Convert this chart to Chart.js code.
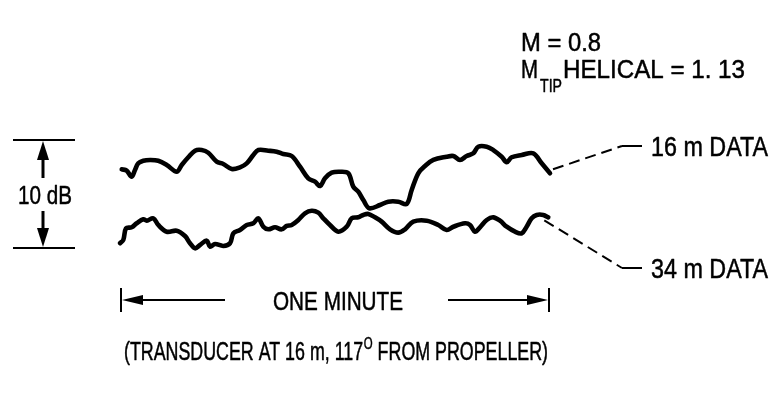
<!DOCTYPE html>
<html>
<head>
<meta charset="utf-8">
<script src="https://cdn.jsdelivr.net/npm/chart.js@4/dist/chart.umd.min.js"></script>
<style>
  html, body { margin: 0; padding: 0; background: #fff; }
  #wrap { width: 774px; height: 394px; }
</style>
</head>
<body>
<div id="wrap"><canvas id="c" width="774" height="394"></canvas></div>
<script>
// Time (s) within the one-minute record and relative level (dB) for each trace
const seconds16 = [0.24, 0.93, 1.63, 2.09, 2.55, 3.25, 4.19, 5.34, 6.52, 7.91, 8.61, 9.53, 10.47, 11.40, 12.32, 13.49, 14.41, 15.59, 16.74, 17.68, 18.60, 19.30, 20.69, 21.86, 22.79, 23.96, 25.12, 26.27, 27.21, 27.91, 28.60, 29.54, 30.70, 31.86, 32.55, 33.25, 33.95, 34.78, 36.28, 37.44, 38.83, 40.00, 40.70, 41.62, 42.56, 43.72, 45.58, 46.51, 47.44, 48.37, 49.30, 49.99, 51.17, 52.09, 53.26, 53.96, 54.65, 56.05, 57.67, 58.84, 60.00];
const level16 = [7.29, 7.16, 6.60, 7.22, 7.84, 8.08, 8.15, 8.08, 7.69, 7.06, 7.69, 8.40, 9.01, 9.07, 8.82, 7.99, 7.78, 7.31, 7.47, 7.84, 8.61, 9.07, 9.01, 8.92, 8.70, 8.52, 7.53, 6.45, 6.14, 5.74, 6.45, 6.97, 7.06, 6.92, 5.68, 5.21, 4.44, 3.68, 3.98, 4.29, 4.29, 4.07, 5.37, 6.92, 7.59, 8.15, 8.45, 8.52, 8.15, 8.52, 8.77, 9.38, 9.38, 9.07, 8.45, 7.94, 8.40, 8.61, 8.77, 7.84, 6.92];

const seconds34 = [0.00, 0.46, 0.84, 1.63, 2.33, 3.25, 3.73, 4.65, 5.34, 6.52, 7.91, 9.07, 9.77, 10.47, 11.16, 12.10, 12.56, 13.26, 14.41, 15.35, 15.81, 16.74, 17.68, 18.60, 19.30, 20.00, 20.69, 21.63, 22.56, 23.26, 23.96, 24.88, 25.81, 26.75, 27.67, 28.37, 29.30, 30.46, 31.63, 32.33, 33.25, 33.95, 34.65, 35.58, 36.51, 37.67, 38.83, 39.77, 40.92, 42.79, 44.41, 45.58, 46.51, 48.14, 48.84, 49.53, 50.23, 51.17, 52.09, 53.02, 53.96, 55.12, 56.05, 56.74, 57.44, 58.14, 59.06, 59.76];
const level34 = [0.44, 0.74, 1.82, 1.92, 2.29, 2.66, 2.53, 2.75, 2.13, 1.51, 1.60, 1.11, 0.44, -0.03, 0.28, 0.68, 0.12, 0.37, 0.19, 0.44, 1.36, 1.67, 2.13, 2.29, 2.75, 1.97, 1.73, 1.92, 1.73, 2.04, 2.13, 2.59, 3.21, 3.45, 3.27, 2.75, 2.13, 1.51, 1.97, 2.75, 2.84, 3.06, 3.15, 2.84, 2.44, 1.73, 1.42, 1.73, 2.44, 2.53, 2.13, 1.67, 1.97, 2.29, 2.13, 1.51, 1.92, 2.59, 2.84, 2.53, 1.97, 1.51, 1.36, 1.97, 2.75, 3.06, 3.06, 2.84];

// Scale bar (dB) and time span (s) markers
const scaleBarDb = [0, 10];
const timeSpan = [0, 60];

// Text
const scaleLabel = '10 dB';
const spanLabel = 'ONE MINUTE';
const machLine = 'M = 0.8';
const tipLine = ['M', 'TIP', 'HELICAL = 1. 13'];
const seriesLabels = ['16 m DATA', '34 m DATA'];
const captionParts = ['(TRANSDUCER AT 16 m, 117', 'O', ' FROM PROPELLER)'];

const FAMILY = '"Liberation Sans", Arial, sans-serif';

function toPoints(xs, ys) { return xs.map((t, i) => ({ x: t, y: ys[i] })); }

// Draw a run of text pieces squeezed horizontally to a set width (condensed lettering)
function fitRun(ctx, pieces, x, baseline, width) {
  let natural = 0;
  const widths = pieces.map(p => {
    ctx.font = p.size + 'px ' + FAMILY;
    const w = ctx.measureText(p.text).width + (p.gap || 0);
    natural += w;
    return w;
  });
  ctx.save();
  ctx.translate(x, baseline);
  ctx.scale(width / natural, 1);
  ctx.textAlign = 'left';
  ctx.textBaseline = 'alphabetic';
  ctx.lineWidth = 0.5;
  ctx.lineJoin = 'round';
  let cx = 0;
  pieces.forEach((p, i) => {
    ctx.font = p.size + 'px ' + FAMILY;
    ctx.fillText(p.text, cx, p.dy || 0);
    ctx.strokeText(p.text, cx, p.dy || 0);
    cx += widths[i];
  });
  ctx.restore();
}

function arrowHead(ctx, tipX, tipY, dirX, dirY, len, half) {
  const bx = tipX - dirX * len, by = tipY - dirY * len;
  const px = -dirY, py = dirX;
  ctx.beginPath();
  ctx.moveTo(tipX, tipY);
  ctx.lineTo(bx + px * half, by + py * half);
  ctx.lineTo(bx - px * half, by - py * half);
  ctx.closePath();
  ctx.fill();
}

function line(ctx, x1, y1, x2, y2, w, dash) {
  ctx.save();
  ctx.lineWidth = w;
  ctx.setLineDash(dash || []);
  ctx.beginPath();
  ctx.moveTo(x1, y1);
  ctx.lineTo(x2, y2);
  ctx.stroke();
  ctx.restore();
}

const annotations = {
  id: 'annotations',
  afterDatasetsDraw(chart) {
    const ctx = chart.ctx;
    const xs = chart.scales.x, ys = chart.scales.y;
    ctx.save();
    ctx.fillStyle = '#000';
    ctx.strokeStyle = '#000';
    ctx.lineCap = 'butt';

    // 10 dB scale bar
    const yTop = ys.getPixelForValue(scaleBarDb[1]);
    const yBot = ys.getPixelForValue(scaleBarDb[0]);
    const yMid = (yTop + yBot) / 2;
    line(ctx, 13, yTop, 75, yTop, 2);
    line(ctx, 13, yBot, 75, yBot, 2);
    const ax = 43;
    arrowHead(ctx, ax, yTop + 1, 0, -1, 19, 6);
    line(ctx, ax, yTop + 17, ax, yMid - 16, 3);
    arrowHead(ctx, ax, yBot - 1, 0, 1, 19, 6);
    line(ctx, ax, yMid + 17, ax, yBot - 17, 3);
    fitRun(ctx, [{ text: scaleLabel, size: 26 }], 18, yMid + 10, 54);

    // One-minute span arrow
    const xL = xs.getPixelForValue(timeSpan[0]);
    const xR = xs.getPixelForValue(timeSpan[1]);
    const yA = 300;
    line(ctx, xL + 1, yA - 12, xL + 1, yA + 12, 2);
    line(ctx, xR - 1, yA - 12, xR - 1, yA + 12, 2);
    arrowHead(ctx, xL + 2, yA, -1, 0, 21, 5);
    line(ctx, xL + 20, yA, 225, yA, 2);
    arrowHead(ctx, xR - 2, yA, 1, 0, 21, 5);
    line(ctx, 448, yA, xR - 20, yA, 2);
    fitRun(ctx, [{ text: spanLabel, size: 26 }], 273, yA + 10, 130);

    // Caption with superscript degree mark
    fitRun(ctx, [
      { text: captionParts[0], size: 25, gap: 1 },
      { text: captionParts[1], size: 16, dy: -11 },
      { text: captionParts[2], size: 25 }
    ], 124, 360, 424);

    // Flight condition labels
    fitRun(ctx, [{ text: machLine, size: 25 }], 521, 51, 80);
    fitRun(ctx, [{ text: tipLine[0], size: 25 }], 521, 78, 17);
    fitRun(ctx, [{ text: tipLine[1], size: 19 }], 540, 92, 22);
    fitRun(ctx, [{ text: tipLine[2], size: 25 }], 563, 78, 182);

    // Series leaders and labels
    const e16x = xs.getPixelForValue(seconds16[seconds16.length - 1]);
    const e16y = ys.getPixelForValue(level16[level16.length - 1]);
    const e34x = xs.getPixelForValue(seconds34[seconds34.length - 1]);
    const e34y = ys.getPixelForValue(level34[level34.length - 1]);
    const l16y = 146, l34y = 268;
    line(ctx, e16x + 3, e16y - 4, 622, l16y, 2, [11, 6]);
    line(ctx, 622, l16y, 642, l16y, 2);
    line(ctx, e34x - 4, e34y + 3, 622, l34y, 2, [11, 6]);
    line(ctx, 622, l34y, 642, l34y, 2);
    fitRun(ctx, [{ text: seriesLabels[0], size: 27 }], 651, l16y + 10, 117);
    fitRun(ctx, [{ text: seriesLabels[1], size: 27 }], 651, l34y + 10, 117);

    ctx.restore();
  }
};

new Chart(document.getElementById('c'), {
  type: 'line',
  data: {
    datasets: [
      { label: seriesLabels[0], data: toPoints(seconds16, level16) },
      { label: seriesLabels[1], data: toPoints(seconds34, level34) }
    ]
  },
  options: {
    responsive: false,
    animation: false,
    devicePixelRatio: 1,
    layout: { padding: { left: 120, right: 224, top: 86, bottom: 92 } },
    elements: {
      line: { borderColor: '#000', borderWidth: 4.6, tension: 0.35, borderCapStyle: 'round', borderJoinStyle: 'round' },
      point: { radius: 0, hoverRadius: 0 }
    },
    datasets: { line: { clip: false } },
    scales: {
      x: { type: 'linear', min: timeSpan[0], max: timeSpan[1], display: false },
      y: { type: 'linear', min: -5, max: 15, display: false }
    },
    plugins: { legend: { display: false }, tooltip: { enabled: false }, title: { display: false } }
  },
  plugins: [annotations]
});
</script>
</body>
</html>
